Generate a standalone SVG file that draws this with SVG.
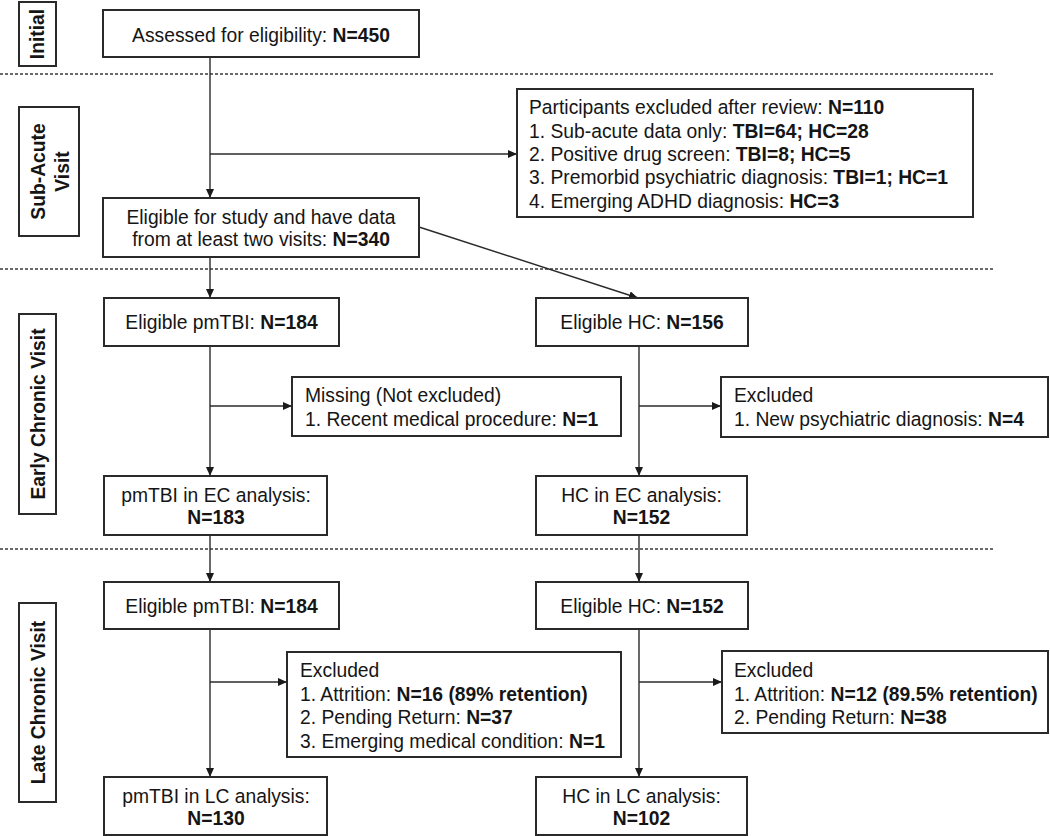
<svg xmlns="http://www.w3.org/2000/svg" width="1050" height="836" viewBox="0 0 1050 836">
<style>
.bx{fill:#fff;stroke:#2a2a2a;stroke-width:2}
.t{font-family:"Liberation Sans",Arial,sans-serif;font-size:19.3px;fill:#151515}
.m{text-anchor:middle}
.b{font-weight:bold}
.lb{font-family:"Liberation Sans",Arial,sans-serif;font-size:19.3px;font-weight:bold;fill:#151515;text-anchor:middle}
.c{fill:none;stroke:#2a2a2a;stroke-width:1.4;marker-end:url(#ah)}
.d{fill:none;stroke:#3a3a3a;stroke-width:1.5;stroke-dasharray:3 2}
</style>
<defs>
<marker id="ah" markerUnits="userSpaceOnUse" markerWidth="10" markerHeight="8" refX="9" refY="4" orient="auto">
<path d="M0,0 L9,4 L0,8 z" fill="#1a1a1a"/>
</marker>
</defs>
<rect width="1050" height="836" fill="#fff"/>
<g id="dividers">
<line class="d" x1="0" y1="74" x2="994" y2="74"/>
<line class="d" x1="0" y1="269" x2="994" y2="269"/>
<line class="d" x1="0" y1="549" x2="994" y2="549"/>
</g>
<g id="connectors">
<line class="c" x1="210" y1="57" x2="210" y2="198"/>
<line class="c" x1="210" y1="154" x2="517" y2="154"/>
<line class="c" x1="419" y1="227" x2="638" y2="298"/>
<line class="c" x1="210" y1="257" x2="210" y2="298"/>
<line class="c" x1="210" y1="346" x2="210" y2="476"/>
<line class="c" x1="210" y1="406" x2="292" y2="406"/>
<line class="c" x1="639" y1="346" x2="639" y2="476"/>
<line class="c" x1="639" y1="406" x2="721" y2="406"/>
<line class="c" x1="210" y1="535" x2="210" y2="582"/>
<line class="c" x1="639" y1="535" x2="639" y2="582"/>
<line class="c" x1="210" y1="629" x2="210" y2="777"/>
<line class="c" x1="210" y1="682" x2="287" y2="682"/>
<line class="c" x1="639" y1="629" x2="639" y2="777"/>
<line class="c" x1="639" y1="682" x2="722" y2="682"/>
</g>
<g id="label-initial">
<rect class="bx" x="19" y="2" width="37" height="64"/>
<text class="lb" transform="translate(44.3,34) rotate(-90)">Initial</text>
</g>
<g id="label-subacute">
<rect class="bx" x="19" y="107" width="60" height="129"/>
<text class="lb" transform="translate(44.8,171.5) rotate(-90)">Sub-Acute</text>
<text class="lb" transform="translate(68.8,171.5) rotate(-90)">Visit</text>
</g>
<g id="label-early">
<rect class="bx" x="19" y="314" width="37" height="200"/>
<text class="lb" transform="translate(44.8,414) rotate(-90)">Early Chronic Visit</text>
</g>
<g id="label-late">
<rect class="bx" x="19" y="603" width="37" height="199"/>
<text class="lb" transform="translate(44.8,702.5) rotate(-90)">Late Chronic Visit</text>
</g>
<g id="n-assessed">
<rect class="bx" x="103" y="10" width="316" height="47"/>
<text class="t m" x="261" y="41.8">Assessed for eligibility: <tspan class="b">N=450</tspan></text>
</g>
<g id="n-excluded-review">
<rect class="bx" x="517" y="89" width="456" height="128"/>
<text class="t" x="529" y="114.3">Participants excluded after review: <tspan class="b">N=110</tspan></text>
<text class="t" x="529" y="137.7">1. Sub-acute data only: <tspan class="b">TBI=64; HC=28</tspan></text>
<text class="t" x="529" y="161">2. Positive drug screen: <tspan class="b">TBI=8; HC=5</tspan></text>
<text class="t" x="529" y="184.3">3. Premorbid psychiatric diagnosis: <tspan class="b">TBI=1; HC=1</tspan></text>
<text class="t" x="529" y="207.6">4. Emerging ADHD diagnosis: <tspan class="b">HC=3</tspan></text>
</g>
<g id="n-eligible-study">
<rect class="bx" x="103" y="198" width="316" height="59"/>
<text class="t m" x="261" y="223.5">Eligible for study and have data</text>
<text class="t m" x="261" y="246">from at least two visits: <tspan class="b">N=340</tspan></text>
</g>
<g id="n-ec-pm-eligible">
<rect class="bx" x="104" y="298" width="235" height="48"/>
<text class="t m" x="221.5" y="329.3">Eligible pmTBI: <tspan class="b">N=184</tspan></text>
</g>
<g id="n-ec-hc-eligible">
<rect class="bx" x="536" y="298" width="212" height="48"/>
<text class="t m" x="642" y="329.3">Eligible HC: <tspan class="b">N=156</tspan></text>
</g>
<g id="n-ec-missing">
<rect class="bx" x="292" y="377" width="329" height="59"/>
<text class="t" x="305" y="401.7">Missing (Not excluded)</text>
<text class="t" x="305" y="425.7">1. Recent medical procedure: <tspan class="b">N=1</tspan></text>
</g>
<g id="n-ec-excluded">
<rect class="bx" x="721" y="377" width="327" height="60"/>
<text class="t" x="734" y="402.3">Excluded</text>
<text class="t" x="734" y="425.7">1. New psychiatric diagnosis: <tspan class="b">N=4</tspan></text>
</g>
<g id="n-ec-pm-analysis">
<rect class="bx" x="104" y="476" width="223" height="59"/>
<text class="t m" x="216" y="502.3">pmTBI in EC analysis:</text>
<text class="t m b" x="216" y="524.3">N=183</text>
</g>
<g id="n-ec-hc-analysis">
<rect class="bx" x="536" y="476" width="211" height="59"/>
<text class="t m" x="641.5" y="502.3">HC in EC analysis:</text>
<text class="t m b" x="641.5" y="524.3">N=152</text>
</g>
<g id="n-lc-pm-eligible">
<rect class="bx" x="104" y="582" width="235" height="47"/>
<text class="t m" x="221.5" y="613.3">Eligible pmTBI: <tspan class="b">N=184</tspan></text>
</g>
<g id="n-lc-hc-eligible">
<rect class="bx" x="536" y="582" width="212" height="47"/>
<text class="t m" x="642" y="613.3">Eligible HC: <tspan class="b">N=152</tspan></text>
</g>
<g id="n-lc-pm-excluded">
<rect class="bx" x="287" y="652" width="334" height="105"/>
<text class="t" x="300" y="677.3">Excluded</text>
<text class="t" x="300" y="700.7">1. Attrition: <tspan class="b">N=16 (89% retention)</tspan></text>
<text class="t" x="300" y="724">2. Pending Return: <tspan class="b">N=37</tspan></text>
<text class="t" x="300" y="748.3">3. Emerging medical condition: <tspan class="b">N=1</tspan></text>
</g>
<g id="n-lc-hc-excluded">
<rect class="bx" x="722" y="651" width="326" height="82"/>
<text class="t" x="734" y="677.3">Excluded</text>
<text class="t" x="734" y="700.7">1. Attrition: <tspan class="b">N=12 (89.5% retention)</tspan></text>
<text class="t" x="734" y="724">2. Pending Return: <tspan class="b">N=38</tspan></text>
</g>
<g id="n-lc-pm-analysis">
<rect class="bx" x="104" y="777" width="223" height="58"/>
<text class="t m" x="216" y="803.3">pmTBI in LC analysis:</text>
<text class="t m b" x="216" y="825">N=130</text>
</g>
<g id="n-lc-hc-analysis">
<rect class="bx" x="536" y="777" width="211" height="58"/>
<text class="t m" x="641.5" y="803.3">HC in LC analysis:</text>
<text class="t m b" x="641.5" y="825">N=102</text>
</g>
</svg>
